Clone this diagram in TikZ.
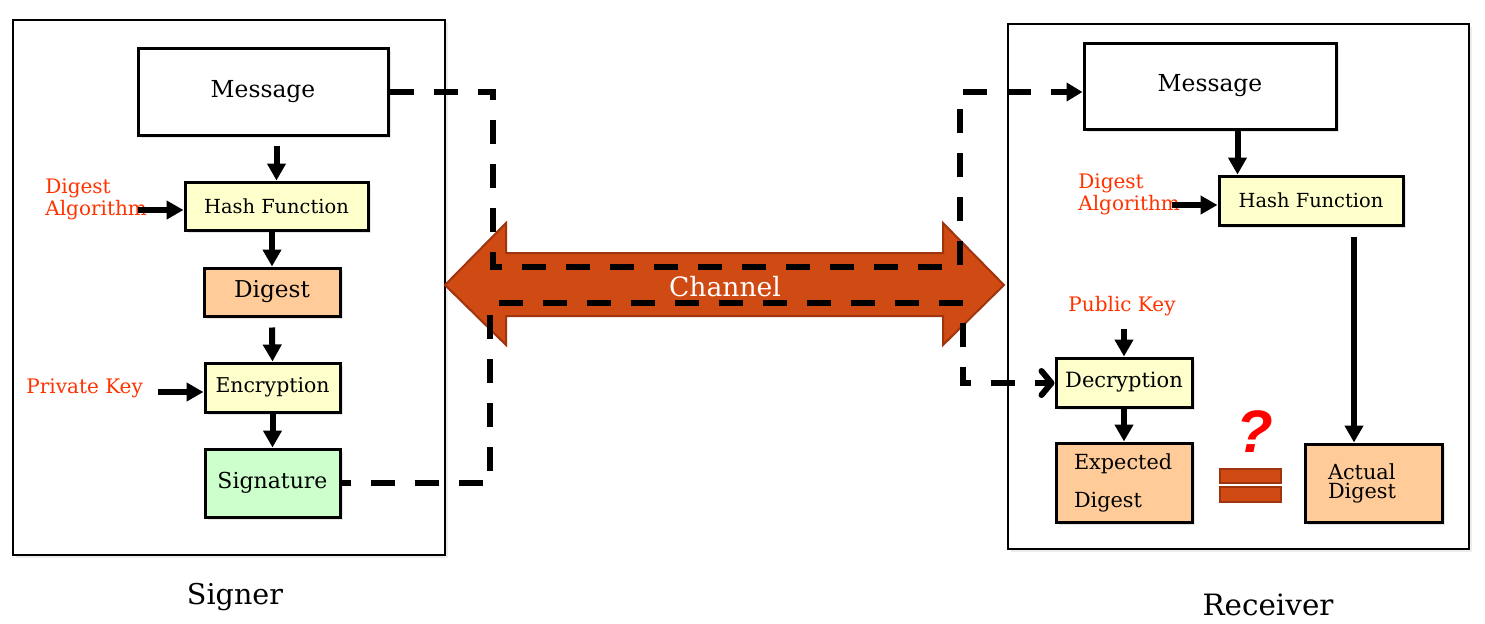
\documentclass[tikz,border=0pt]{standalone}
\usepackage{fontspec}
\setmainfont{DejaVu Serif}
\setsansfont{Liberation Sans}
\usetikzlibrary{calc,arrows.meta,shadows}
\definecolor{keyred}{RGB}{255,51,0}
\definecolor{chanfill}{RGB}{208,74,20}
\definecolor{chanedge}{RGB}{160,52,14}
\definecolor{procfill}{RGB}{255,255,204}
\definecolor{digfill}{RGB}{255,204,153}
\definecolor{sigfill}{RGB}{204,255,204}

\begin{document}
\begin{tikzpicture}[x=0.5pt,y=-0.5pt,
	frame/.style={draw,line width=1pt,fill=white,inner sep=0pt,
		drop shadow={shadow xshift=1.5pt,shadow yshift=-1.5pt,opacity=.15}},
	box/.style={draw,line width=1.5pt,fill=white,inner sep=0pt,
		drop shadow={shadow xshift=1.5pt,shadow yshift=-1.5pt,opacity=.2}},
	flow/.style={line width=3pt,-{Triangle[length=8.5pt,width=9pt]}},
	link/.style={line width=3pt,dash pattern=on 12pt off 10pt},
	keylabel/.style={text=keyred,inner sep=0pt,align=left,font=\fontsize{10}{11}\selectfont}]
	\useasboundingbox (0,0) rectangle (1485,623);
	%FRAMES
	\node[frame,minimum width=216pt,minimum height=267.5pt] (signer) at (229,287.5) {};
	\node[frame,minimum width=230.5pt,minimum height=262.5pt] (receiver) at (1238.5,286.5) {};
	\node[font=\fontsize{14.3}{16}\selectfont] (signerlabel) at (235,597) {Signer};
	\node[font=\fontsize{14.7}{16}\selectfont] (receiverlabel) at (1268,605) {Receiver};
	%CHANNEL
	\filldraw[fill=chanfill,draw=chanedge,line width=1pt] (445,285) -- (506,223) -- (506,253) -- (943,253) -- (943,223) -- (1004,285) -- (943,345) -- (943,316) -- (506,316) -- (506,345) -- cycle;
	\node[text=white,font=\fontsize{13.3}{15}\selectfont] (chan) at (725,287) {Channel};
	%SIGNER
	\node[box,minimum width=125pt,minimum height=43.5pt,font=\fontsize{11.7}{13}\selectfont] (smsg) at (263,91.5) {Message};
	\node[box,fill=procfill,minimum width=91.5pt,minimum height=24pt,font=\fontsize{9.7}{11}\selectfont] (shash) at (276.5,206) {Hash Function};
	\node[box,fill=digfill,minimum width=68pt,minimum height=24pt,font=\fontsize{11.6}{13}\selectfont] (sdig) at (272,292) {Digest};
	\node[box,fill=procfill,minimum width=67.5pt,minimum height=24.5pt,font=\fontsize{10.2}{12}\selectfont] (senc) at (272.5,387.5) {Encryption};
	\node[box,fill=sigfill,minimum width=67.5pt,minimum height=34pt,font=\fontsize{11}{13}\selectfont] (ssig) at (272.5,483) {Signature};
	\node[keylabel,anchor=west] (salg) at (45,199) {Digest\\Algorithm};
	\node[keylabel,anchor=west] (skey) at (26,388) {Private Key};
	\coordinate (salgend) at (138,210);
	\coordinate (skeyend) at (158,392);
	\draw[flow] (smsg.south -| shash.north) ++(0,9) -- (shash.north);
	\draw[flow] (shash.south -| sdig.north) -- (sdig.north);
	\draw[flow] (sdig.south) ++(0,10) -- (senc.north);
	\draw[flow] (senc.south) -- (ssig.north);
	\draw[flow] (salgend) -- (salgend -| shash.west);
	\draw[flow] (skeyend) -- (skeyend -| senc.west);
	%RECEIVER
	\node[box,minimum width=126pt,minimum height=43pt,font=\fontsize{11.7}{13}\selectfont] (rmsg) at (1210,86) {Message};
	\node[box,fill=procfill,minimum width=92pt,minimum height=24.5pt,font=\fontsize{9.7}{11}\selectfont] (rhash) at (1311,200.5) {Hash Function};
	\node[box,fill=procfill,minimum width=68pt,minimum height=24.5pt,font=\fontsize{10.5}{12}\selectfont] (rdec) at (1124,382.5) {Decryption};
	\node[box,fill=digfill,minimum width=68pt,minimum height=39.5pt,text width=50pt,align=left,font=\fontsize{10.4}{19}\selectfont] (rexp) at (1124,482.5) {Expected\\Digest};
	\node[box,fill=digfill,minimum width=68.5pt,minimum height=39pt,text width=45.5pt,align=left,font=\fontsize{10.4}{9.5}\selectfont] (ract) at (1373.5,483) {Actual\\Digest};
	\node[keylabel,anchor=west] (ralg) at (1078,194) {Digest\\Algorithm};
	\node[keylabel] (rpub) at (1122,306) {Public Key};
	\coordinate (ralgend) at (1172,205);
	\draw[flow] (rmsg.south -| rhash.north west) ++(20,0) -- ($(rhash.north west)+(20,0)$);
	\draw[flow] (ralgend) -- (ralgend -| rhash.west);
	\draw[flow] ($(rhash.south)+(43,10)$) coordinate (rh) -- (rh |- ract.north);
	\draw[flow] (rdec.north) ++(0,-28) -- (rdec.north);
	\draw[flow] (rdec.south) -- (rexp.north);
	%COMPARE
	\filldraw[fill=chanfill,draw=chanedge,line width=1pt] (1220,469) rectangle (1281,483);
	\filldraw[fill=chanfill,draw=chanedge,line width=1pt] (1220,487) rectangle (1281,502);
	\node[text=red,font=\sffamily\bfseries\itshape\fontsize{30}{30}\selectfont] (ask) at (1255,432) {?};
	%LINKS
	\coordinate (m1) at (493,267);
	\coordinate (m2) at (960,92);
	\coordinate (s1) at (490,303);
	\coordinate (s2) at (963,383);
	\draw[link,-{Triangle[length=8pt,width=9pt]}] (smsg.east) -| (m1) -| (m2) -- (m2 -| rmsg.west);
	\draw[link,dash phase=7.5pt,-{Straight Barb[length=5pt,width=12pt,round]}] (ssig.east) -| (s1) -| (s2) -- (s2 -| rdec.west);
\end{tikzpicture}
\end{document}
